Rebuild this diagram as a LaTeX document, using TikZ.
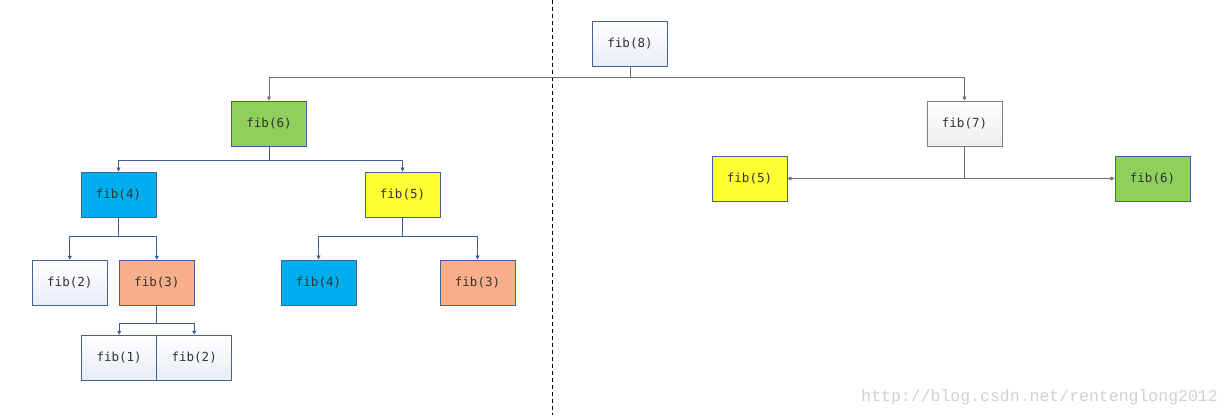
\documentclass[tikz,border=0pt]{standalone}
\usepackage{fontspec}
\newfontfamily\monof{DejaVu Sans Mono}
\newfontfamily\wmfont{Liberation Mono}
\usetikzlibrary{arrows.meta}
\definecolor{bdblue}{HTML}{41639A}
\definecolor{bdgray}{HTML}{7F7F7F}
\definecolor{lnblue}{HTML}{3F5F94}
\definecolor{lngray}{HTML}{6E6E6E}
\definecolor{fgreen}{HTML}{8FD05C}
\definecolor{fblue}{HTML}{00AEEF}
\definecolor{fyellow}{HTML}{FFFF33}
\definecolor{fsalmon}{HTML}{F9B08A}
\definecolor{pale}{HTML}{E8ECF5}
\definecolor{txt}{HTML}{333333}
\tikzset{
  fbox/.style={draw=bdblue, line width=0.9pt, minimum width=75pt, minimum height=45pt, inner sep=0pt,
    font=\monof\fontsize{12.5}{14}\selectfont, text=txt},
  plain/.style={fbox, top color=white, bottom color=pale},
  grayplain/.style={fbox, draw=bdgray, top color=white, bottom color=black!7},
  green/.style={fbox, fill=fgreen},
  blue/.style={fbox, fill=fblue},
  yellow/.style={fbox, fill=fyellow},
  salmon/.style={fbox, fill=fsalmon},
  bl/.style={draw=lnblue, line width=0.8pt, -{Triangle[length=4pt,width=4pt]}},
  gl/.style={draw=lngray, line width=0.8pt, -{Triangle[length=4pt,width=4pt]}},
}
\begin{document}
\begin{tikzpicture}[x=1pt,y=-1pt]
\useasboundingbox (0,0) rectangle (1230,415);
\fill[white] (0,0) rectangle (1230,415);
\draw[black, line width=0.8pt, dash pattern=on 4pt off 3pt] (552,0) -- (552,415);
\node[plain] (f8) at (630,43.5) {fib(8)};
\node[green] (f6) at (269,123.5) {fib(6)};
\node[grayplain] (f7) at (964.5,123.5) {fib(7)};
\node[blue] (f4) at (118.5,194.5) {fib(4)};
\node[yellow] (f5) at (402.5,194.5) {fib(5)};
\node[yellow] (r5) at (749.5,178.5) {fib(5)};
\node[green] (r6) at (1152.5,178.5) {fib(6)};
\node[plain] (f2) at (69.8,282.7) {fib(2)};
\node[salmon] (f3) at (156.8,282.7) {fib(3)};
\node[blue] (g4) at (318.5,282.5) {fib(4)};
\node[salmon] (g3) at (477.5,282.5) {fib(3)};
\node[plain] (f1) at (119.2,357.7) {fib(1)};
\node[plain] (h2) at (194.2,357.7) {fib(2)};
% connectors
\draw[gl] (f8.south) -- (630,77) -| (f6.north);
\draw[gl] (f8.south) -- (630,77) -| (f7.north);
\draw[bl] (f6.south) -- (269,160) -| (f4.north);
\draw[bl] (f6.south) -- (269,160) -| (f5.north);
\draw[bl] (f4.south) -- (118.5,236) -| (f2.north);
\draw[bl] (f4.south) -- (118.5,236) -| (f3.north);
\draw[bl] (f5.south) -- (402.5,236) -| (g4.north);
\draw[bl] (f5.south) -- (402.5,236) -| (g3.north);
\draw[bl] (f3.south) -- (156.8,323) -| (f1.north);
\draw[bl] (f3.south) -- (156.8,323) -| (h2.north);
\draw[gl] (f7.south) |- (r5.east);
\draw[gl] (f7.south) |- (r6.west);
\node[anchor=east, text=black!18, font=\wmfont\fontsize{16.5}{18}\selectfont, inner sep=0pt] (wm) at (1218,397) {http://blog.csdn.net/rentenglong2012};
\end{tikzpicture}
\end{document}
